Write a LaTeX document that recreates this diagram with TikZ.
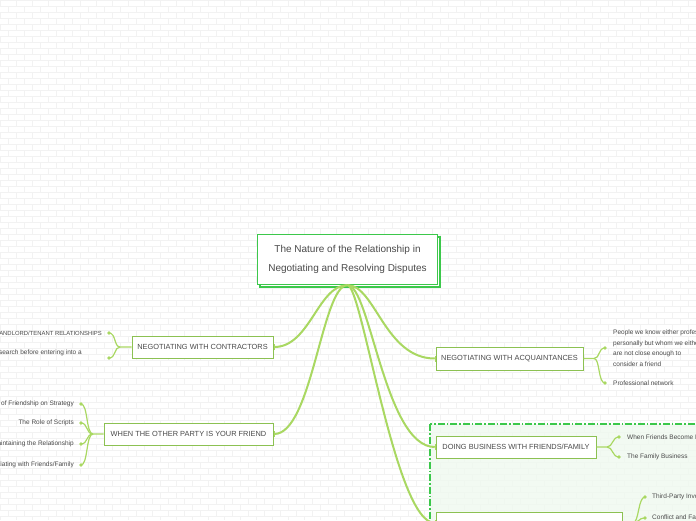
\documentclass[tikz,border=0pt]{standalone}
\usepackage{fontspec}
\setmainfont{Liberation Sans}
\usetikzlibrary{arrows.meta}
\definecolor{conn}{HTML}{A9D862}
\definecolor{boxc}{HTML}{8CC152}
\definecolor{cgreen}{HTML}{3CC84B}
\definecolor{txt}{HTML}{4A4A4A}
\definecolor{brick}{HTML}{F2F2F2}
\definecolor{framefill}{HTML}{EEF9EE}
\begin{document}
\begin{tikzpicture}[x=1pt,y=-1pt,
  topic/.style={draw=boxc,line width=1pt,fill=white,minimum height=22pt,inner sep=0pt,font=\fontsize{7.4}{9}\selectfont,text=txt},
  leaf/.style={font=\fontsize{6.5}{10.5}\selectfont,text=txt,inner sep=0pt},
  capleaf/.style={font=\fontsize{5.9}{8}\selectfont,text=txt,inner sep=0pt},
  mainline/.style={draw=conn,line width=2pt,-{Bar[width=6pt,line width=1pt]}},
  subline/.style={draw=conn,line width=1.2pt},
  dotc/.style={circle,fill=conn,inner sep=0pt,minimum size=3.6pt}]
\useasboundingbox (0,0) rectangle (696,520);
\clip (0,0) rectangle (696,520);
\fill[white] (0,0) rectangle (696,520);
% brick background
\foreach \r in {0,...,87} {\draw[brick,line width=0.6pt] (0,\r*6) -- (696,\r*6);}
\foreach \k in {0,...,87} {\pgfmathsetmacro\ph{mod(\k,2)*6}
  \draw[brick,line width=0.6pt,dash pattern=on 6pt off 6pt,dash phase=\ph pt] (\k*8,0) -- (\k*8,520);}
% dashed frame
\fill[framefill,fill opacity=0.75] (430,424) rectangle (720,560);
\draw[cgreen,line width=1.5pt,dash pattern=on 7pt off 2pt on 1.5pt off 2pt] (430,424) rectangle (720,560);
% central topic
\draw[cgreen,line width=1.3pt,fill=white] (260,237) rectangle (440,287);
\node[draw=cgreen,line width=1.3pt,fill=white,minimum width=180pt,minimum height=50pt,inner sep=0pt,
  align=center,font=\fontsize{10}{19}\selectfont,text=txt] (root) at (347.5,259.5)
  {The Nature of the Relationship in\\Negotiating and Resolving Disputes};
% main topics
\node[topic,minimum width=141pt] (contr) at (202.5,347) {NEGOTIATING WITH CONTRACTORS};
\node[topic,minimum width=169pt] (friend) at (188.5,434) {WHEN THE OTHER PARTY IS YOUR FRIEND};
\node[topic,minimum width=147pt,minimum height=23pt] (acq) at (509.5,358.5) {NEGOTIATING WITH ACQUAINTANCES};
\node[topic,minimum width=160pt] (biz) at (516,447) {DOING BUSINESS WITH FRIENDS/FAMILY};
\node[topic,minimum width=186pt] (nav) at (529,523) {};
% main connectors
\draw[mainline] (root.south) .. controls (318,285) and (310,347) .. (contr.east);
\draw[mainline] (root.south) .. controls (322,285) and (312,434) .. (friend.east);
\draw[mainline] (root.south) .. controls (375,285) and (385,358.5) .. (acq.west);
\draw[mainline] (root.south) .. controls (370,285) and (385,447) .. (biz.west);
\draw[mainline] (root.south) .. controls (362,285) and (395,523) .. (nav.west);
% contractors children
\node[dotc] (c1) at (109,333) {};
\node[dotc] (c2) at (109,358) {};
\draw[subline] (contr.west) -- (120,347) .. controls (114,347) and (116,333) .. (c1.center);
\draw[subline] (120,347) .. controls (114,347) and (116,358) .. (c2.center);
\node[capleaf,anchor=east] (c1t) at (102,333) {LANDLORD/TENANT RELATIONSHIPS};
\node[leaf,anchor=east] (c2t) at (82,353) {Research before entering into a};
% friend children
\node[dotc] (f1) at (81,404) {};
\node[dotc] (f2) at (81,423) {};
\node[dotc] (f3) at (81,444) {};
\node[dotc] (f4) at (81,465) {};
\draw[subline] (friend.west) -- (93,434) .. controls (86,434) and (88,404) .. (f1.center);
\draw[subline] (93,434) .. controls (86,434) and (88,423) .. (f2.center);
\draw[subline] (93,434) .. controls (86,434) and (88,444) .. (f3.center);
\draw[subline] (93,434) .. controls (86,434) and (88,465) .. (f4.center);
\node[leaf,anchor=east] (f1t) at (74,404) {The Impact of Friendship on Strategy};
\node[leaf,anchor=east] (f2t) at (74,423) {The Role of Scripts};
\node[leaf,anchor=east] (f3t) at (74,444) {Maintaining the Relationship};
\node[leaf,anchor=east] (f4t) at (74,465) {Negotiating with Friends/Family};
% acquaintances children
\node[dotc] (a1) at (605,348) {};
\node[dotc] (a2) at (605,383) {};
\draw[subline] (acq.east) -- (594,358.5) .. controls (600,358.5) and (598,348) .. (a1.center);
\draw[subline] (594,358.5) .. controls (600,358.5) and (598,383) .. (a2.center);
\node[leaf,anchor=west,align=left] (a1t) at (613,348) {People we know either professionally or\\personally but whom we either\\are not close enough to\\consider a friend};
\node[leaf,anchor=west] (a2t) at (613,383) {Professional network};
% business children
\node[dotc] (b1) at (619,437) {};
\node[dotc] (b2) at (619,457) {};
\draw[subline] (biz.east) -- (607,447) .. controls (613,447) and (612,437) .. (b1.center);
\draw[subline] (607,447) .. controls (613,447) and (612,457) .. (b2.center);
\node[leaf,anchor=west] (b1t) at (627,437) {When Friends Become Business Partners};
\node[leaf,anchor=west] (b2t) at (627,457) {The Family Business};
% bottom topic children
\node[dotc] (n1) at (645,497) {};
\node[dotc] (n2) at (645,518) {};
\draw[subline] (nav.east) -- (633,523) .. controls (639,523) and (638,497) .. (n1.center);
\draw[subline] (633,523) .. controls (639,523) and (638,518) .. (n2.center);
\node[leaf,anchor=west] (n1t) at (652,497) {Third-Party Involvement};
\node[leaf,anchor=west] (n2t) at (652,518) {Conflict and Family};
\end{tikzpicture}
\end{document}
